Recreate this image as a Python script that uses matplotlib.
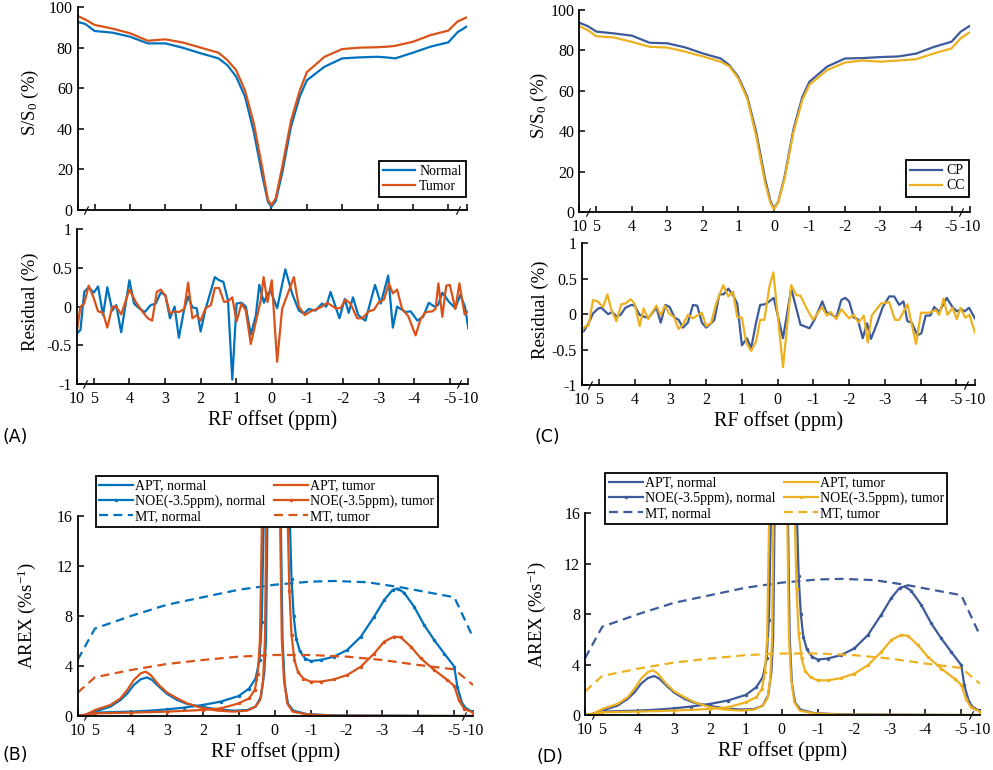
import numpy as np
import matplotlib
matplotlib.use("Agg")
import matplotlib.pyplot as plt

plt.rcParams["font.family"] = "serif"
plt.rcParams["font.serif"] = ["Liberation Serif", "DejaVu Serif"]
plt.rcParams["axes.unicode_minus"] = False
plt.rcParams["mathtext.default"] = "regular"

BLUE, ORANGE = "#0072BD", "#D95319"
NAVY, GOLD = "#3D5A9A", "#EDB120"

# ── x axis: broken ppm axis (10..5 and -5..-10 squeezed) ────────────────
TICKS = [10, 5, 4, 3, 2, 1, 0, -1, -2, -3, -4, -5, -10]
TICK_LABELS = ["10", "5", "4", "3", "2", "1", "0", "-1", "-2", "-3", "-4", "-5", "-10"]

# ── Z-spectra ───────────────────────────────────────────────────────────
xz_a = [10, 7.8, 5, 4.5, 4, 3.5, 3, 2.5, 2, 1.5, 1.25, 1.0, 0.75, 0.5, 0.25, 0.1, 0,
        -0.12, -0.3, -0.55, -0.8, -1.0, -1.5, -2.0, -2.5, -3.0, -3.3, -3.5, -4.0, -4.5,
        -5.0, -7.5, -10]
z_normal = [92.8, 91.8, 88.3, 87.5, 85.5, 82.2, 82.2, 80.0, 77.3, 74.8, 71.5, 65.8, 56.0,
            38.5, 16.0, 4.0, 1.6, 4.5, 18.0, 41.0, 56.0, 64.0, 70.7, 74.8, 75.3, 75.6,
            75.2, 74.8, 77.6, 80.6, 82.7, 87.7, 90.5]
z_tumor = [95.7, 94.0, 91.3, 89.5, 87.2, 83.5, 84.2, 82.6, 80.1, 77.6, 74.0, 69.0, 59.0,
           42.8, 19.7, 5.0, 2.5, 5.8, 21.0, 44.0, 59.0, 68.0, 75.6, 79.4, 80.1, 80.3,
           80.6, 81.0, 83.0, 86.3, 88.5, 93.0, 95.0]

xz_c = [10, 7.5, 5, 4.5, 4, 3.5, 3, 2.5, 2, 1.5, 1.25, 1.0, 0.75, 0.5, 0.25, 0.1, 0,
        -0.12, -0.3, -0.55, -0.8, -1.0, -1.5, -2.0, -2.5, -3.0, -3.5, -4.0, -4.5, -5.0,
        -7.5, -10]
z_cp = [93.7, 92.0, 89.3, 88.4, 87.3, 83.8, 83.5, 81.5, 78.5, 76.0, 72.6, 66.8, 57.0, 39.5,
        16.5, 5.5, 1.8, 5.0, 17.5, 41.0, 57.0, 64.5, 72.0, 76.0, 76.2, 76.7, 77.0, 78.4,
        81.7, 84.3, 89.3, 92.2]
z_cc = [92.0, 90.0, 87.0, 86.4, 84.2, 81.8, 81.4, 79.4, 77.0, 74.4, 72.0, 66.0, 56.0, 37.5,
        14.5, 4.5, 1.3, 4.8, 16.5, 39.5, 55.5, 63.0, 70.3, 74.0, 75.0, 74.4, 75.0, 75.6,
        78.5, 81.0, 86.0, 89.0]

# ── fit residuals ───────────────────────────────────────────────────────
xr_normal = [10, 8.9, 7.8, 6.5, 5.0, 4.88, 4.74, 4.62, 4.48, 4.37, 4.23, 4.0, 3.87, 3.73,
             3.57, 3.40, 3.26, 3.12, 2.99, 2.86, 2.73, 2.61, 2.46, 2.35, 2.23, 2.11, 2.0,
             1.86, 1.60, 1.48, 1.36, 1.23, 1.11, 0.99, 0.85, 0.73, 0.59, 0.45, 0.35, 0.22,
             0.12, 0.03, -0.15, -0.38, -0.57, -0.76, -0.9, -1.04, -1.23, -1.41, -1.53,
             -1.65, -1.79, -1.9, -2.05, -2.16, -2.28, -2.43, -2.63, -2.9, -3.06, -3.27,
             -3.4, -3.52, -3.76, -3.9, -4.09, -4.25, -4.41, -4.57, -4.67, -4.79, -4.98,
             -6.5, -7.8, -9.1, -10]
r_normal = [-0.35, -0.30, 0.19, 0.25, 0.18, 0.26, -0.11, 0.25, -0.05, 0.02, -0.33, 0.34,
            0.04, -0.02, -0.07, 0.02, 0.04, 0.18, 0.15, -0.15, 0.0, -0.40, -0.03, 0.13,
            -0.01, -0.02, -0.32, -0.03, 0.38, 0.34, 0.32, 0.08, -0.94, 0.04, 0.05, 0.0,
            -0.36, -0.12, 0.28, 0.05, 0.17, 0.20, -0.02, 0.48, 0.17, -0.05, -0.09, -0.03,
            -0.05, 0.04, 0.0, 0.19, 0.0, -0.15, 0.10, -0.08, 0.12, -0.11, -0.18, 0.28,
            0.04, 0.40, -0.27, 0.0, -0.07, -0.06, -0.18, -0.13, 0.05, 0.0, 0.02, 0.18,
            0.06, -0.02, 0.15, 0.0, -0.28]

xr_tumor = [10, 8.9, 7.8, 6.5, 5.1, 4.88, 4.74, 4.62, 4.48, 4.37, 4.23, 4.0, 3.82, 3.64,
            3.48, 3.36, 3.23, 3.12, 2.99, 2.86, 2.73, 2.61, 2.46, 2.35, 2.23, 2.11, 2.0,
            1.86, 1.71, 1.60, 1.48, 1.34, 1.23, 1.11, 0.99, 0.85, 0.73, 0.59, 0.45, 0.31,
            0.23, 0.12, 0.0, -0.15, -0.29, -0.62, -0.76, -0.93, -1.09, -1.27, -1.41,
            -1.56, -1.79, -1.93, -2.07, -2.21, -2.4, -2.54, -2.73, -2.87, -3.01, -3.15,
            -3.29, -3.4, -3.52, -3.66, -3.83, -4.04, -4.18, -4.32, -4.51, -4.6, -4.68,
            -4.79, -4.9, -5.0, -6.5, -7.6, -9.0, -10]
r_tumor = [-0.33, 0.0, 0.04, 0.27, 0.12, -0.06, -0.08, -0.27, 0.0, 0.0, -0.10, 0.22, 0.06,
           -0.06, -0.15, -0.18, 0.19, 0.22, 0.14, -0.09, -0.06, -0.07, -0.03, 0.31, -0.15,
           -0.11, -0.18, -0.02, 0.02, 0.24, 0.24, 0.06, 0.07, 0.12, -0.19, 0.04, -0.05,
           -0.48, -0.20, 0.08, 0.38, 0.06, 0.34, -0.71, -0.03, 0.38, 0.0, -0.11, -0.06,
           -0.03, 0.0, 0.05, -0.02, -0.02, 0.09, 0.04, -0.15, -0.15, -0.06, -0.04, 0.06,
           0.09, 0.30, 0.17, 0.22, -0.03, -0.12, -0.37, -0.16, -0.07, -0.06, -0.03, 0.30,
           -0.13, 0.27, 0.28, -0.03, 0.30, -0.10, -0.06]

xr_cp = [10, 9.4, 8.0, 6.7, 5.2, 4.93, 4.74, 4.63, 4.51, 4.39, 4.26, 4.09, 4.0, 3.86, 3.72,
         3.61, 3.39, 3.27, 3.14, 3.02, 2.88, 2.77, 2.65, 2.51, 2.37, 2.25, 2.12, 2.0, 1.84,
         1.77, 1.63, 1.51, 1.38, 1.25, 1.13, 1.0, 0.86, 0.74, 0.6, 0.49, 0.35, 0.26, 0.11,
         -0.15, -0.38, -0.64, -0.75, -0.89, -1.03, -1.25, -1.36, -1.5, -1.64, -1.78,
         -1.89, -2.0, -2.13, -2.24, -2.38, -2.5, -2.61, -2.78, -2.94, -3.12, -3.26, -3.4,
         -3.52, -3.63, -3.75, -3.91, -4.02, -4.14, -4.27, -4.38, -4.52, -4.73, -4.89,
         -5.1, -6.3, -7.2, -8.4, -10]
r_cp = [-0.25, -0.24, -0.13, 0.01, 0.08, 0.09, 0.0, 0.03, -0.03, -0.01, 0.09, 0.13, 0.12,
        -0.01, -0.04, -0.05, 0.09, -0.12, 0.13, 0.10, -0.05, -0.08, -0.19, -0.12, 0.13,
        0.12, -0.12, -0.19, -0.12, -0.08, 0.28, 0.28, 0.36, 0.27, 0.15, -0.44, -0.34,
        -0.48, -0.11, 0.13, 0.14, 0.17, 0.23, -0.34, 0.36, -0.15, -0.17, -0.20, -0.08,
        0.18, 0.03, 0.0, -0.05, 0.20, 0.23, 0.18, -0.05, -0.07, -0.34, -0.13, -0.35,
        -0.13, 0.10, 0.25, 0.25, 0.13, 0.18, -0.10, -0.12, -0.30, -0.27, -0.02, -0.02,
        0.10, 0.03, 0.23, 0.10, 0.04, 0.07, 0.04, 0.09, -0.06]

xr_cc = [10, 9.15, 8.0, 6.7, 5.4, 4.88, 4.76, 4.65, 4.51, 4.37, 4.26, 4.11, 4.0, 3.86, 3.75,
         3.62, 3.53, 3.39, 3.27, 3.16, 3.02, 2.9, 2.77, 2.65, 2.51, 2.37, 2.25, 2.12, 2.0,
         1.86, 1.72, 1.52, 1.38, 1.25, 1.13, 1.0, 0.88, 0.74, 0.6, 0.49, 0.37, 0.23, 0.12,
         -0.15, -0.38, -0.52, -0.64, -0.8, -0.99, -1.24, -1.38, -1.48, -1.64, -1.78, -2.0,
         -2.13, -2.26, -2.41, -2.52, -2.63, -2.89, -3.12, -3.28, -3.4, -3.63, -3.87,
         -4.01, -4.24, -4.42, -4.52, -4.64, -4.75, -4.89, -5.1, -6.1, -7.4, -8.5, -10]
r_cc = [-0.24, -0.18, -0.16, 0.20, 0.18, 0.10, 0.28, 0.06, -0.10, 0.14, 0.15, 0.21, 0.15,
        -0.17, 0.08, -0.07, 0.01, 0.12, -0.02, 0.12, 0.0, -0.04, -0.21, -0.15, -0.01,
        -0.06, -0.02, 0.02, -0.17, -0.12, 0.15, 0.41, 0.25, 0.32, -0.04, -0.05, -0.40,
        -0.52, -0.38, -0.08, -0.08, 0.39, 0.59, -0.75, 0.41, 0.27, 0.26, 0.09, -0.08,
        0.10, -0.02, 0.03, -0.07, 0.07, -0.06, -0.01, -0.12, -0.02, -0.40, -0.02, 0.15,
        0.17, -0.08, -0.08, 0.14, -0.42, 0.02, 0.02, 0.06, -0.01, 0.22, -0.01, 0.09,
        -0.07, 0.09, -0.05, -0.01, -0.26]

# ── AREX ────────────────────────────────────────────────────────────────
x_mt_n = [10, 5, 4, 3, 2, 1, 0, -1, -1.65, -2.58, -3.5, -4.44, -5, -10]
mt_normal = [4.5, 7.0, 8.0, 8.9, 9.5, 10.1, 10.5, 10.75, 10.8, 10.7, 10.3, 9.8, 9.5, 6.3]
x_mt_t = [10, 5, 4, 3, 2, 1, 0, -1, -2, -3, -4, -5, -10]
mt_tumor = [1.87, 3.1, 3.68, 4.16, 4.48, 4.75, 4.88, 4.88, 4.75, 4.48, 4.08, 3.73, 2.48]

x_apt_n = [10, 7.5, 5, 4.57, 4.29, 4.1, 3.92, 3.73, 3.55, 3.41, 3.22, 2.99, 2.71, 2.43,
           2.06, 1.6, 1.13, 0.76, 0.53, 0.38, 0.29, 0.24, 0.2, 0, -0.17, -0.22, -0.28,
           -0.37, -0.52, -0.9, -1.65, -5, -10]
apt_normal = [0.0, 0.1, 0.35, 0.75, 1.28, 1.8, 2.48, 2.93, 3.09, 2.88, 2.35, 1.76, 1.28,
              0.96, 0.75, 0.53, 0.43, 0.48, 0.75, 1.55, 3.4, 6.1, 16.0, 60.0, 16.0, 6.1,
              2.6, 1.0, 0.43, 0.15, 0.05, 0.0, 0.0]
x_apt_t = [10, 7.5, 5, 4.57, 4.29, 4.1, 3.92, 3.73, 3.59, 3.45, 3.22, 2.99, 2.71, 2.43,
           2.06, 1.6, 1.13, 0.76, 0.53, 0.4, 0.32, 0.27, 0.23, 0, -0.15, -0.2, -0.26,
           -0.35, -0.5, -0.9, -1.65, -5, -10]
apt_tumor = [0.0, 0.12, 0.48, 0.88, 1.41, 2.08, 2.88, 3.41, 3.55, 3.28, 2.48, 1.87, 1.41,
             1.01, 0.67, 0.43, 0.35, 0.43, 0.75, 1.3, 2.9, 6.1, 16.0, 60.0, 16.0, 6.1,
             2.88, 1.01, 0.35, 0.13, 0.03, 0.0, 0.0]

x_noe_n = [10, 7.5, 5, 4, 3.45, 3, 2.53, 2, 1.5, 1.0, 0.71, 0.53, 0.42, 0.36, 0.3, 0,
           -0.42, -0.47, -0.53, -0.6, -0.7, -0.85, -1.0, -1.28, -1.65, -2.02, -2.4,
           -2.77, -3.05, -3.28, -3.42, -3.6, -3.88, -4.16, -4.44, -4.72, -5.0, -5.8,
           -7.1, -8.4, -10]
noe_normal = [0.0, 0.1, 0.27, 0.35, 0.43, 0.53, 0.67, 0.88, 1.15, 1.6, 2.2, 3.0, 4.5, 7.5,
              16.0, 60.0, 16.0, 11.0, 8.0, 6.2, 5.2, 4.6, 4.4, 4.48, 4.75, 5.28, 6.35,
              7.95, 9.28, 10.08, 10.2, 9.87, 8.75, 7.28, 6.08, 5.0, 3.95, 2.35, 1.0, 0.53,
              0.35]
x_noe_t = [10, 7.5, 5, 4, 3, 2, 1.5, 1.0, 0.71, 0.55, 0.47, 0.41, 0.35, 0, -0.36, -0.41,
           -0.47, -0.55, -0.65, -0.8, -1.0, -1.28, -1.65, -2.02, -2.4, -2.77, -3.05,
           -3.32, -3.51, -3.79, -4.07, -4.44, -4.81, -5.0, -6.2, -7.6, -10]
noe_tumor = [0.0, 0.08, 0.21, 0.27, 0.35, 0.48, 0.61, 1.01, 1.41, 2.1, 3.4, 6.0, 16.0, 60.0,
             16.0, 10.0, 6.5, 4.5, 3.5, 3.0, 2.75, 2.75, 2.93, 3.28, 3.95, 5.0, 5.95,
             6.35, 6.29, 5.55, 4.61, 3.68, 2.88, 2.4, 1.28, 0.6, 0.27]


def fwd(x):
    return np.interp(x, [-10, -5, 5, 10], [-5.52, -5, 5, 5.48])


def inv(u):
    return np.interp(u, [-5.52, -5, 5, 5.48], [-10, -5, 5, 10])


W, H = 993, 770
fig = plt.figure(figsize=(W / 100, H / 100), dpi=100)


def make_ax(l, t, r, b):
    return fig.add_axes([l / W, 1 - b / H, (r - l) / W, (b - t) / H])


def style(ax, labels=True):
    ax.set_xscale("function", functions=(fwd, inv))
    ax.set_xlim(10, -10)
    ax.set_xticks(TICKS)
    ax.set_xticklabels(TICK_LABELS)
    for s in ("top", "right"):
        ax.spines[s].set_visible(False)
    for s in ("left", "bottom"):
        ax.spines[s].set_linewidth(1.3)
    ax.tick_params(direction="in", length=4, width=1.1, labelsize=11.5)
    ax.tick_params(axis="x", pad=5, labelbottom=labels)
    # axis break marks
    ax.plot([7.5, -7.5], [0, 0], transform=ax.get_xaxis_transform(), ls="none",
            marker=[(-0.5, -1), (0.5, 1)], ms=6, mec="k", mew=0.8, clip_on=False)


def ylab(ax, text, x, y=0.5):
    ax.set_ylabel(text, fontsize=13.5)
    ax.yaxis.set_label_coords(x, y)


lw = 1.6

# ── (A) Z-spectra normal / tumor ────────────────────────────────────────
ax = make_ax(77.7, 7.3, 466.7, 210)
style(ax, labels=False)
ax.plot(xz_a, z_normal, color=BLUE, lw=lw, label="Normal")
ax.plot(xz_a, z_tumor, color=ORANGE, lw=lw, label="Tumor")
ax.set_ylim(0, 100)
ax.set_yticks([0, 20, 40, 60, 80, 100])
ylab(ax, "S/S$_0$ (%)", -0.095, 0.53)
leg = ax.legend(loc="lower right", bbox_to_anchor=(0.998, 0.063), fontsize=10,
                fancybox=False, edgecolor="k", framealpha=1, handlelength=2.3,
                handletextpad=0.3, borderpad=0.3, labelspacing=0.15, borderaxespad=0)
leg.get_frame().set_linewidth(1.3)

ax = make_ax(76.7, 229, 468.3, 384.3)
style(ax)
ax.plot(xr_normal, r_normal, color=BLUE, lw=lw)
ax.plot(xr_tumor, r_tumor, color=ORANGE, lw=lw)
ax.set_ylim(-1, 1)
ax.set_yticks([-1, -0.5, 0, 0.5, 1])
ax.set_yticklabels(["-1", "-0.5", "0", "0.5", "1"])
ylab(ax, "Residual (%)", -0.097, 0.53)
ax.set_xlabel("RF offset (ppm)", fontsize=14.5, labelpad=2)

# ── (C) Z-spectra CP / CC ───────────────────────────────────────────────
ax = make_ax(579.3, 10, 970, 212)
style(ax)
ax.plot(xz_c, z_cp, color=NAVY, lw=lw, label="CP")
ax.plot(xz_c, z_cc, color=GOLD, lw=lw, label="CC")
ax.set_ylim(0, 100)
ax.set_yticks([0, 20, 40, 60, 80, 100])
ylab(ax, "S/S$_0$ (%)", -0.075, 0.53)
leg = ax.legend(loc="lower right", bbox_to_anchor=(0.998, 0.076), fontsize=10,
                fancybox=False, edgecolor="k", framealpha=1, handlelength=2.3,
                handletextpad=0.3, borderpad=0.3, labelspacing=0.15, borderaxespad=0)
leg.get_frame().set_linewidth(1.3)

ax = make_ax(581.7, 243.3, 975, 385)
style(ax)
ax.plot(xr_cp, r_cp, color=NAVY, lw=lw)
ax.plot(xr_cc, r_cc, color=GOLD, lw=lw)
ax.set_ylim(-1, 1)
ax.set_yticks([-1, -0.5, 0, 0.5, 1])
ax.set_yticklabels(["-1", "-0.5", "0", "0.5", "1"])
ylab(ax, "Residual (%)", -0.083, 0.53)
ax.set_xlabel("RF offset (ppm)", fontsize=14.5, labelpad=2)


# ── (B) and (D) AREX ────────────────────────────────────────────────────
def arex_panel(box, c_n, c_t, lab_x, leg_anchor):
    ax = make_ax(*box)
    style(ax)
    h1, = ax.plot(x_apt_n, apt_normal, color=c_n, lw=lw, label="APT, normal")
    h2, = ax.plot(x_noe_n, noe_normal, color=c_n, lw=lw, marker=".", ms=3,
                  label="NOE(-3.5ppm), normal")
    h3, = ax.plot(x_mt_n, mt_normal, color=c_n, lw=lw, ls=(0, (4, 2.5)), label="MT, normal")
    h4, = ax.plot(x_apt_t, apt_tumor, color=c_t, lw=lw, label="APT, tumor")
    h5, = ax.plot(x_noe_t, noe_tumor, color=c_t, lw=lw, marker=".", ms=3,
                  label="NOE(-3.5ppm), tumor")
    h6, = ax.plot(x_mt_t, mt_tumor, color=c_t, lw=lw, ls=(0, (4, 2.5)), label="MT, tumor")
    ax.set_ylim(0, 16)
    ax.set_yticks([0, 4, 8, 12, 16])
    ylab(ax, "AREX (%s$^{-1}$)", lab_x, 0.5)
    ax.set_xlabel("RF offset (ppm)", fontsize=14.5, labelpad=2)
    leg = ax.legend(handles=[h1, h2, h3, h4, h5, h6], ncol=2, loc="upper left",
                    bbox_to_anchor=leg_anchor, fontsize=10, fancybox=False,
                    edgecolor="k", framealpha=1, handlelength=2.45, handletextpad=0.15,
                    columnspacing=0.6, borderpad=0.25, labelspacing=0.15, borderaxespad=0)
    leg.get_frame().set_linewidth(1.3)
    return ax


arex_panel((77.7, 516, 473, 716), BLUE, ORANGE, -0.1, (0.046, 1.2))
arex_panel((585, 513.3, 980, 715), NAVY, GOLD, -0.094, (0.051, 1.2))

# ── panel letters ───────────────────────────────────────────────────────
for txt, x, y in [("(A)", 3, 437), ("(B)", 3, 755), ("(C)", 535, 437), ("(D)", 536, 757)]:
    fig.text(x / W, 1 - y / H, txt, family="DejaVu Sans", fontsize=12.5,
             ha="left", va="center")

fig.savefig("out.png", dpi=100)
